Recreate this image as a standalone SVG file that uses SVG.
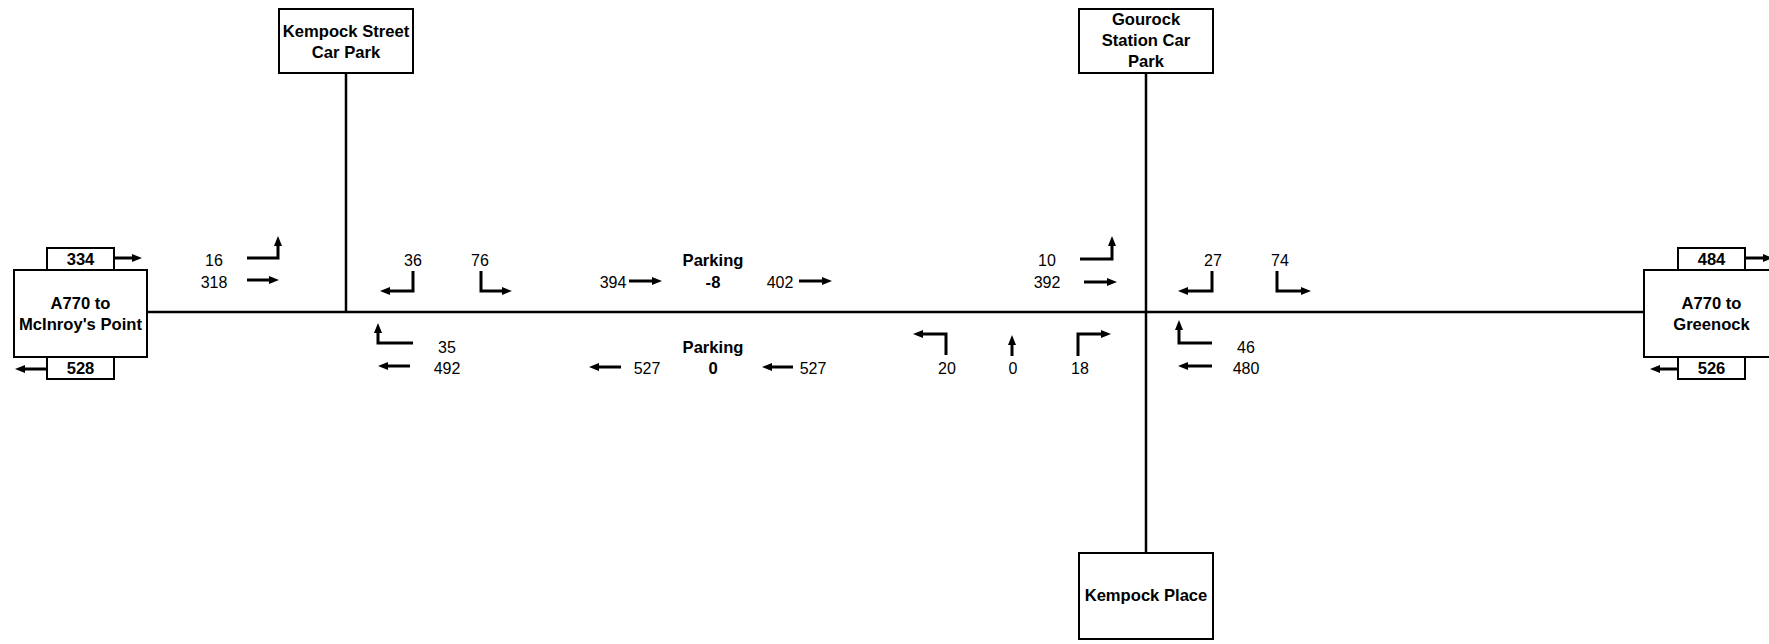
<svg xmlns="http://www.w3.org/2000/svg" width="1769" height="644" viewBox="0 0 1769 644">
<style>
text{font-family:"Liberation Sans",Arial,sans-serif;font-size:16px;fill:#000;text-anchor:middle}
.b{font-weight:bold;font-size:16.6px}
.box{fill:#fff;stroke:#000;stroke-width:2}
.road{stroke:#000;stroke-width:2.5;fill:none}
.arr{stroke:#000;stroke-width:3;fill:none;marker-end:url(#ah)}
</style>
<defs>
<marker id="ah" markerUnits="userSpaceOnUse" viewBox="0 0 10 8" markerWidth="10" markerHeight="8" refX="3" refY="4" orient="auto">
<path d="M0,0 L10,4 L0,8 z" fill="#000"/>
</marker>
</defs>
<g id="connectors">
<path class="road" d="M147,312 H1644"/>
<path class="road" d="M346,73 V312"/>
<path class="road" d="M1146,73 V553"/>
</g>
<g id="node-mcinroy">
<rect class="box" x="47" y="248" width="67" height="22"/>
<rect class="box" x="14" y="270" width="133" height="87"/>
<rect class="box" x="47" y="357" width="67" height="22"/>
<text class="b" x="80.5" y="265">334</text>
<text class="b" x="80.5" y="309">A770 to</text>
<text class="b" x="80.5" y="330">McInroy's Point</text>
<text class="b" x="80.5" y="374">528</text>
</g>
<g id="node-greenock">
<rect class="box" x="1678" y="248" width="67" height="22"/>
<rect class="box" x="1644" y="270" width="134" height="87"/>
<rect class="box" x="1678" y="357" width="67" height="22"/>
<text class="b" x="1711.5" y="265">484</text>
<text class="b" x="1711.5" y="309">A770 to</text>
<text class="b" x="1711.5" y="330">Greenock</text>
<text class="b" x="1711.5" y="374">526</text>
</g>
<g id="node-kempock-street">
<rect class="box" x="279" y="9" width="134" height="64"/>
<text class="b" x="346" y="37">Kempock Street</text>
<text class="b" x="346" y="58">Car Park</text>
</g>
<g id="node-gourock-station">
<rect class="box" x="1079" y="9" width="134" height="64"/>
<text class="b" x="1146" y="25">Gourock</text>
<text class="b" x="1146" y="46">Station Car</text>
<text class="b" x="1146" y="67">Park</text>
</g>
<g id="node-kempock-place">
<rect class="box" x="1079" y="553" width="134" height="86"/>
<text class="b" x="1146" y="601">Kempock Place</text>
</g>
<g id="movements">
<path class="arr" d="M114,258 H135"/>
<path class="arr" d="M47,369 H22"/>
<path class="arr" d="M247,258 H278 V243"/>
<path class="arr" d="M247,280 H272"/>
<path class="arr" d="M413,271 V291 H387"/>
<path class="arr" d="M481,271 V291 H505"/>
<path class="arr" d="M413,343 H378 V330"/>
<path class="arr" d="M410,366 H385"/>
<path class="arr" d="M629,281 H655"/>
<path class="arr" d="M799,281 H825"/>
<path class="arr" d="M621,367 H596"/>
<path class="arr" d="M793,367 H769"/>
<path class="arr" d="M946,355 V334 H920"/>
<path class="arr" d="M1012,356 V342"/>
<path class="arr" d="M1078,356 V334 H1104"/>
<path class="arr" d="M1080,259 H1112 V243"/>
<path class="arr" d="M1084,282 H1110"/>
<path class="arr" d="M1212,271 V291 H1185"/>
<path class="arr" d="M1277,271 V291 H1304"/>
<path class="arr" d="M1212,343 H1179 V327"/>
<path class="arr" d="M1212,366 H1185"/>
<path class="arr" d="M1745,258 H1766"/>
<path class="arr" d="M1678,369 H1657"/>
</g>
<g id="labels">
<text x="214" y="266">16</text>
<text x="214" y="288">318</text>
<text x="413" y="266">36</text>
<text x="480" y="266">76</text>
<text x="447" y="353">35</text>
<text x="447" y="374">492</text>
<text class="b" x="713" y="266">Parking</text>
<text class="b" x="713" y="288">-8</text>
<text x="613" y="288">394</text>
<text x="780" y="288">402</text>
<text class="b" x="713" y="353">Parking</text>
<text class="b" x="713" y="374">0</text>
<text x="647" y="374">527</text>
<text x="813" y="374">527</text>
<text x="947" y="374">20</text>
<text x="1013" y="374">0</text>
<text x="1080" y="374">18</text>
<text x="1047" y="266">10</text>
<text x="1047" y="288">392</text>
<text x="1213" y="266">27</text>
<text x="1280" y="266">74</text>
<text x="1246" y="353">46</text>
<text x="1246" y="374">480</text>
</g>
</svg>
